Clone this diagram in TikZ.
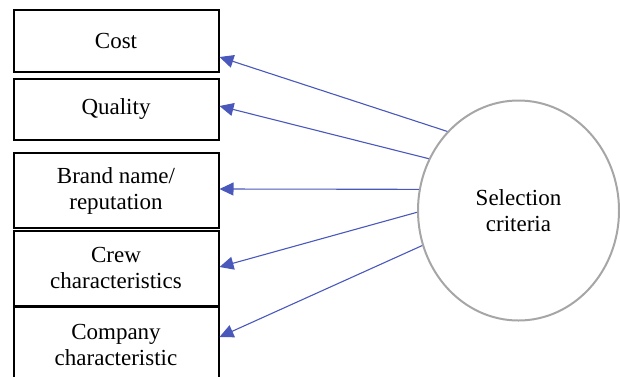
\documentclass[tikz,border=0pt]{standalone}
\usepackage{fontspec}
\setmainfont{Liberation Serif}
\usetikzlibrary{arrows.meta,shapes.geometric}
\definecolor{arrblue}{HTML}{4A58BC}
\definecolor{ringgray}{HTML}{A6A6A6}

\begin{document}
\begin{tikzpicture}[
  x=1pt, y=-1pt,
  font=\fontsize{23}{26}\selectfont,
  crit/.style={draw=black, line width=2pt, align=center, minimum width=205pt,
               inner sep=2pt},
  hub/.style={ellipse, draw=ringgray, line width=2pt, align=center,
              minimum width=201pt, minimum height=220pt, inner sep=0pt},
  arr/.style={-{Triangle[length=14pt,width=13pt]}, arrblue, line width=1.1pt},
]
\useasboundingbox (0,0) rectangle (620,376);

\node[crit, minimum height=62pt] (cost) at (116,41) {Cost};
\node[crit, minimum height=61pt] (quality) at (116,109) {Quality};
\node[crit, minimum height=75pt] (brand) at (116,190.5) {Brand name/\\reputation};
\node[crit, minimum height=75pt] (crew) at (116,268) {Crew\\characteristics};
\node[crit, minimum height=75pt] (company) at (116,344.5) {Company\\characteristic};
\node[hub] (sel) at (518.5,210.5) {Selection\\criteria};

\draw[arr] (sel.132) -- ([yshift=-16pt]cost.east);
\draw[arr] (sel.150) -- ([yshift=3pt]quality.east);
\draw[arr] (sel.168) -- ([yshift=1.5pt]brand.east);
\draw[arr] (sel.181) -- ([yshift=1pt]crew.east);
\draw[arr] (sel.200) -- ([yshift=7.5pt]company.east);
\end{tikzpicture}
\end{document}
